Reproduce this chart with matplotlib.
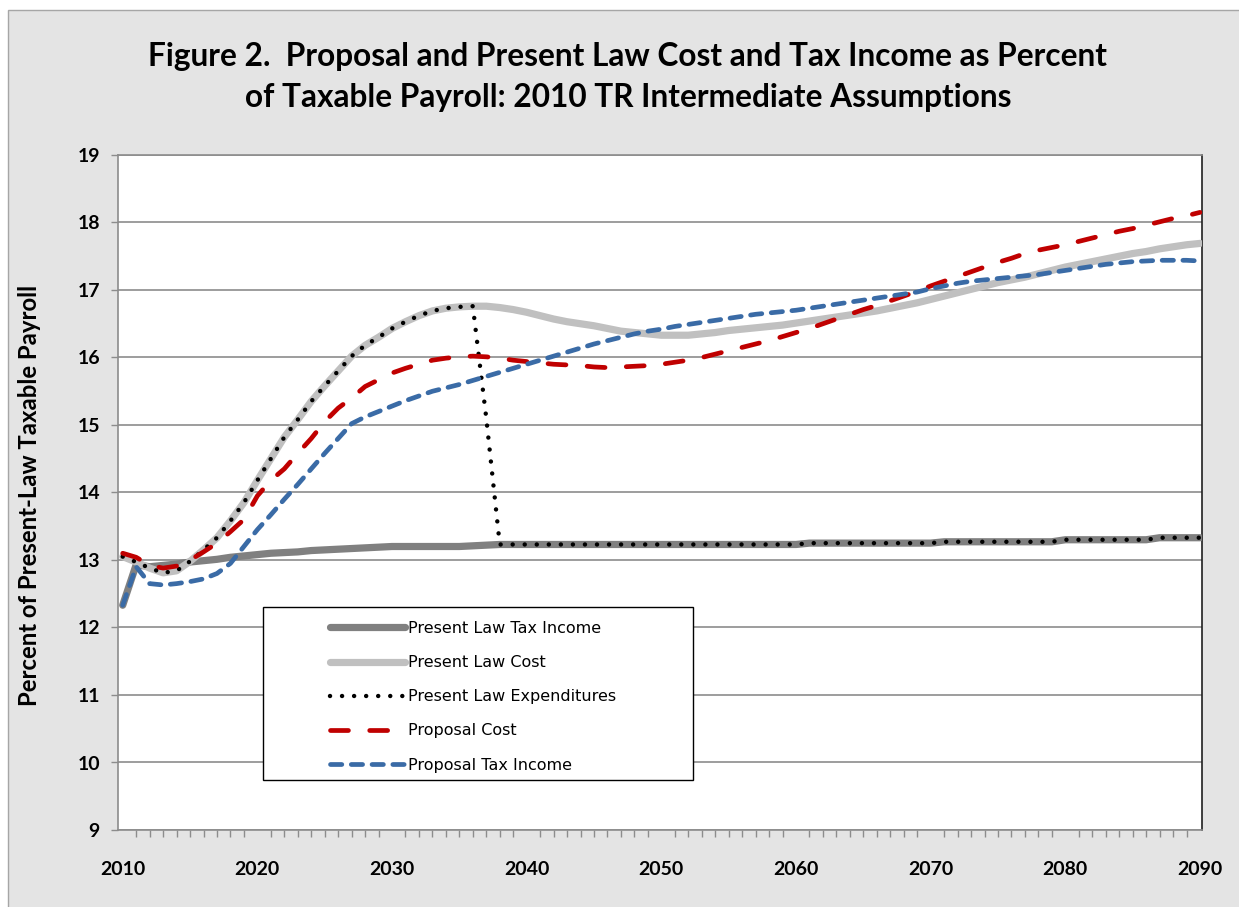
import matplotlib
matplotlib.use("Agg")
import matplotlib.pyplot as plt
from matplotlib.patches import Rectangle
import numpy as np

years = list(range(2010, 2091))

pl_tax_income = [12.33, 12.93, 12.90, 12.92, 12.94, 12.97, 12.99, 13.01, 13.04, 13.06,
                 13.08, 13.10, 13.11, 13.12, 13.14, 13.15, 13.16, 13.17, 13.18, 13.19,
                 13.20, 13.20, 13.20, 13.20, 13.20, 13.20, 13.21, 13.22] + [13.23] * 23 + \
                [13.25] * 10 + [13.27] * 9 + [13.30] * 7 + [13.33] * 4

pl_cost = [13.05, 12.97, 12.88, 12.81, 12.84, 12.98, 13.15, 13.33, 13.58, 13.85,
           14.18, 14.50, 14.82, 15.08, 15.35, 15.58, 15.80, 16.02, 16.18, 16.30,
           16.43, 16.53, 16.62, 16.69, 16.73, 16.75, 16.76, 16.76, 16.74, 16.71,
           16.67, 16.62, 16.57, 16.53, 16.50, 16.47, 16.43, 16.39, 16.37, 16.35,
           16.33, 16.33, 16.33, 16.35, 16.37, 16.40, 16.42, 16.44, 16.46, 16.48,
           16.51, 16.54, 16.57, 16.60, 16.63, 16.66, 16.69, 16.73, 16.77, 16.81,
           16.86, 16.91, 16.96, 17.01, 17.06, 17.11, 17.15, 17.19, 17.24, 17.29,
           17.34, 17.38, 17.42, 17.46, 17.50, 17.54, 17.57, 17.61, 17.64, 17.67,
           17.69]

pl_expend = pl_cost[:27] + [15.10] + pl_tax_income[28:]

prop_cost = [13.10, 13.04, 12.92, 12.88, 12.91, 13.00, 13.12, 13.25, 13.42, 13.60,
             13.95, 14.18, 14.35, 14.58, 14.80, 15.05, 15.25, 15.40, 15.57, 15.67,
             15.77, 15.84, 15.90, 15.96, 15.99, 16.01, 16.02, 16.01, 15.99, 15.96,
             15.94, 15.92, 15.90, 15.89, 15.88, 15.86, 15.85, 15.86, 15.87, 15.88,
             15.90, 15.93, 15.96, 16.00, 16.05, 16.10, 16.15, 16.20, 16.25, 16.31,
             16.37, 16.43, 16.50, 16.57, 16.64, 16.71, 16.77, 16.84, 16.91, 16.98,
             17.06, 17.13, 17.20, 17.27, 17.34, 17.41, 17.47, 17.54, 17.59, 17.63,
             17.67, 17.72, 17.77, 17.82, 17.87, 17.91, 17.96, 18.01, 18.06, 18.10,
             18.15]

prop_tax_income = [12.33, 12.90, 12.65, 12.63, 12.65, 12.68, 12.72, 12.80, 12.95, 13.20,
                   13.45, 13.67, 13.90, 14.12, 14.35, 14.58, 14.80, 15.02, 15.12, 15.20,
                   15.28, 15.36, 15.43, 15.50, 15.55, 15.60, 15.66, 15.72, 15.78, 15.84,
                   15.90, 15.96, 16.02, 16.08, 16.14, 16.20, 16.25, 16.30, 16.35, 16.39,
                   16.42, 16.46, 16.49, 16.52, 16.55, 16.58, 16.61, 16.64, 16.66, 16.68,
                   16.70, 16.73, 16.76, 16.79, 16.82, 16.85, 16.88, 16.91, 16.94, 16.97,
                   17.02, 17.06, 17.10, 17.13, 17.15, 17.17, 17.19, 17.21, 17.23, 17.26,
                   17.29, 17.32, 17.35, 17.38, 17.40, 17.42, 17.43, 17.44, 17.44, 17.44,
                   17.43]

labels = ["Present Law Tax Income", "Present Law Cost", "Present Law Expenditures",
          "Proposal Cost", "Proposal Tax Income"]
title = ("Figure 2.  Proposal and Present Law Cost and Tax Income as Percent\n"
         "of Taxable Payroll: 2010 TR Intermediate Assumptions")
ylabel = "Percent of Present-Law Taxable Payroll"
xticks = [2010, 2020, 2030, 2040, 2050, 2060, 2070, 2080, 2090]
yticks = list(range(9, 20))

W, H = 1239, 907
fig = plt.figure(figsize=(W / 100, H / 100), dpi=100)
fig.patch.set_facecolor("white")
bg = Rectangle((8 / W, -0.05), 1.1, (H - 10) / H + 0.05,
               transform=fig.transFigure, facecolor="#E4E4E4",
               edgecolor="#A6A6A6", lw=1.0, zorder=-10)
fig.add_artist(bg)

ax = fig.add_axes([118 / W, 1 - 830 / H, (1202 - 118) / W, (830 - 155) / H])
ax.set_zorder(1)
ax.set_facecolor("white")

ax.plot(years, pl_tax_income, color="#808080", lw=5.2, solid_capstyle="round",
        label=labels[0], zorder=3)
ax.plot(years, pl_cost, color="#C0C0C0", lw=5.2, solid_capstyle="round",
        label=labels[1], zorder=4)
ax.plot(years, pl_expend, color="black", lw=3.2, linestyle=(0, (0.01, 2.7)),
        dash_capstyle="round", label=labels[2], zorder=5)
ax.plot(years, prop_cost, color="#C00000", lw=3.4, linestyle=(0, (3.8, 4.5)),
        dash_capstyle="round", label=labels[3], zorder=6)
ax.plot(years, prop_tax_income, color="#3A6BA6", lw=3.4, linestyle=(0, (2.4, 2.0)),
        dash_capstyle="round", label=labels[4], zorder=7)

ax.set_xlim(2009.65, 2090.15)
ax.set_ylim(9, 19)
ax.set_yticks(yticks)
ax.set_xticks(xticks)
ax.set_xticks(years, minor=True)
ax.grid(axis="y", color="#8C8C8C", lw=1.2, zorder=1)
ax.set_axisbelow(True)

for s in ["left", "bottom", "top"]:
    ax.spines[s].set_color("#8C8C8C")
    ax.spines[s].set_linewidth(1.2)
ax.spines["right"].set_color("#202020")
ax.spines["right"].set_linewidth(1.2)

tick_font = dict(family="Lato", weight="bold", size=14)
ax.tick_params(axis="x", which="major", length=0, pad=22)
ax.tick_params(axis="x", which="minor", length=5, color="#8C8C8C", width=1)
ax.tick_params(axis="y", length=5, color="#8C8C8C", width=1, pad=8)
ax.set_xticklabels([str(x) for x in xticks], **tick_font)
ax.set_yticklabels([str(y) for y in yticks], **tick_font)

fig.text(30 / W, 1 - 495 / H, ylabel, rotation=90, ha="center", va="center",
         family="Lato", weight="bold", size=17.2)
fig.text(628 / W, 1 - 77 / H, title, ha="center", va="center", family="Lato",
         weight="bold", size=22.8, linespacing=1.5)

# legend frame
ax.add_patch(Rectangle(((263 - 118) / 1084, (830 - 780) / 675), 430 / 1084, 173 / 675,
                       transform=ax.transAxes, facecolor="white", edgecolor="black",
                       lw=1.0, zorder=8))
leg = ax.legend(loc="upper left", bbox_to_anchor=((330 - 118) / 1084, (830 - 621) / 675),
                frameon=False, prop=dict(family="DejaVu Sans", size=11.5),
                handlelength=4.7, handletextpad=0.2, labelspacing=1.2,
                borderpad=0, borderaxespad=0)
leg.set_zorder(9)

fig.savefig("out.png", dpi=100)
